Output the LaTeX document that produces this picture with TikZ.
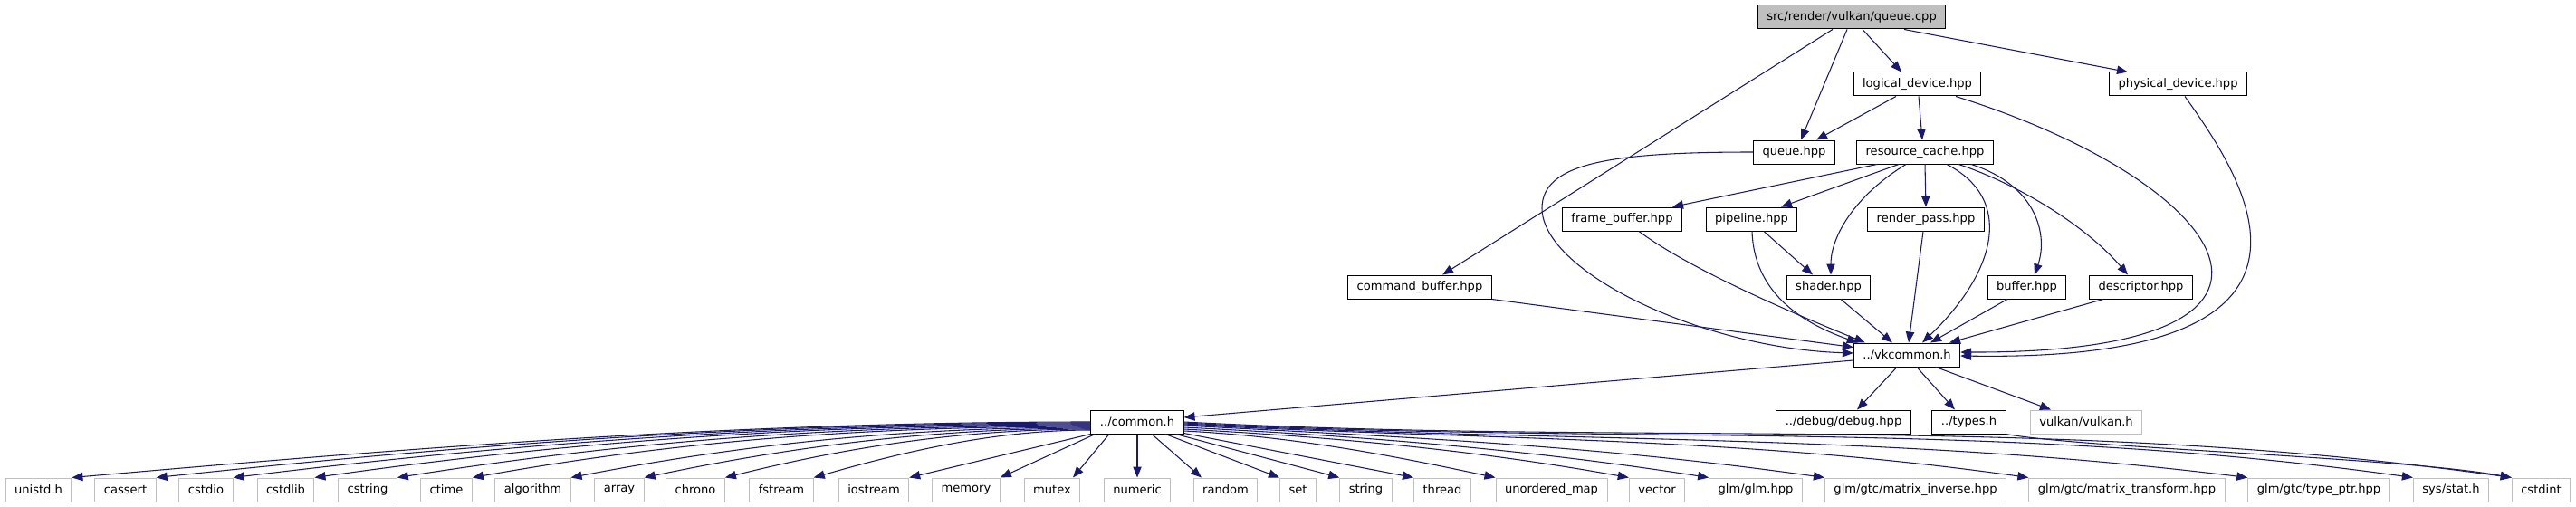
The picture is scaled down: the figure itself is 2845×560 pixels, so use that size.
\documentclass[tikz,border=0pt]{standalone}
\usepackage{fontspec}
\setmainfont{DejaVu Sans}
\usetikzlibrary{arrows.meta,calc}
\definecolor{edgeblue}{RGB}{25,25,112}
\definecolor{rootgray}{RGB}{191,191,191}
\definecolor{sysgray}{RGB}{191,191,191}
\tikzset{
    filebox/.style={draw=black,fill=white,line width=0.75pt,minimum height=19.5pt,
        inner xsep=7.5pt,inner ysep=0pt,font=\fontsize{9.8}{11}\selectfont},
    rootbox/.style={filebox,fill=rootgray},
    sysbox/.style={filebox,draw=sysgray},
    incl/.style={->,edgeblue,line width=0.8pt}
}

\begin{document}
\begin{tikzpicture}[x=0.75pt,y=-0.75pt,>={Triangle[length=9pt,width=7pt]}]
    \useasboundingbox (0,0) rectangle (2845,560);
    % Source file
    \node[rootbox] (root) at (2045,19) {src/render/vulkan/queue.cpp};
    % Project headers
    \node[filebox] (logical) at (2117.5,93) {logical\_device.hpp};
    \node[filebox] (physical) at (2405.5,93) {physical\_device.hpp};
    \node[filebox] (queue) at (1981.5,168) {queue.hpp};
    \node[filebox] (rescache) at (2126,168) {resource\_cache.hpp};
    \node[filebox] (fb) at (1791.5,242) {frame\_buffer.hpp};
    \node[filebox] (pipeline) at (1934.5,242) {pipeline.hpp};
    \node[filebox] (renderpass) at (2127,242) {render\_pass.hpp};
    \node[filebox] (cmdbuf) at (1568,317) {command\_buffer.hpp};
    \node[filebox] (shader) at (2019.5,317) {shader.hpp};
    \node[filebox] (buffer) at (2238.5,317) {buffer.hpp};
    \node[filebox] (descriptor) at (2364.5,317) {descriptor.hpp};
    \node[filebox] (vk) at (2106,392) {../vkcommon.h};
    \node[filebox] (common) at (1256,466) {../common.h};
    \node[filebox] (debug) at (2036,466) {../debug/debug.hpp};
    \node[filebox] (types) at (2174.5,466) {../types.h};
    % System headers
    \node[sysbox] (vulkan) at (2304,466) {vulkan/vulkan.h};
    \foreach \name/\x/\txt in {unistd/42.5/unistd.h, cassert/138.5/cassert,
        cstdio/227.5/cstdio, cstdlib/315.5/cstdlib, cstring/406/cstring,
        ctime/493/ctime, algorithm/588.5/algorithm, array/684/array,
        chrono/768/chrono, fstream/863/fstream, iostream/965/iostream,
        memory/1067/memory, mutex/1162/mutex, numeric/1256/numeric,
        random/1353.5/random, set/1433.5/set, string/1508.5/string,
        thread/1593/thread, umap/1713.5/unordered\_map, vector/1830/vector,
        glm/1939/{glm/glm.hpp}, inverse/2115.5/{glm/gtc/matrix\_inverse.hpp},
        transform/2349/{glm/gtc/matrix\_transform.hpp},
        typeptr/2561/{glm/gtc/type\_ptr.hpp}, stat/2707/{sys/stat.h},
        cstdint/2806.5/cstdint}
        \node[sysbox] (\name) at (\x,541) {\txt};

    % queue.cpp includes
    \draw[incl] ($(root.south)+(-21,0)$) -- ($(cmdbuf.north)+(25,0)$);
    \draw[incl] ($(root.south)+(-5,0)$) -- ($(queue.north)+(7.5,0)$);
    \draw[incl] ($(root.south)+(12,0)$) -- ($(logical.north)+(-17.5,0)$);
    \draw[incl] ($(root.south)+(58,0)$) -- ($(physical.north)+(-55.5,0)$);
    % logical_device.hpp
    \draw[incl] ($(logical.south)+(-23.5,0)$) -- ($(queue.north)+(24.5,0)$);
    \draw[incl] ($(logical.south)+(1.5,0)$) -- ($(rescache.north)+(-3,0)$);
    \draw[incl] ($(logical.south)+(42.5,0)$) .. controls (2460,200) and (2600,390) .. ($(vk.east)+(0,-3)$);
    % physical_device.hpp
    \draw[incl] ($(physical.south)+(7.5,0)$) .. controls (2480,200) and (2613,400) .. ($(vk.east)+(0,1)$);
    % queue.hpp
    \draw[incl] (queue.west) .. controls (1780,168) and (1703,180) .. (1703,230)
        .. controls (1703,300) and (1880,385) .. ($(vk.west)+(0,-2)$);
    % command_buffer.hpp
    \draw[incl] (cmdbuf.south east) -- ($(vk.north west)+(0,5)$);
    % resource_cache.hpp
    \draw[incl] ($(rescache.south)+(-53,0)$) -- ($(fb.north)+(55.5,0)$);
    \draw[incl] ($(rescache.south)+(-29,0)$) -- ($(pipeline.north)+(32.5,0)$);
    \draw[incl] ($(rescache.south)+(-21,0)$) .. controls (2050,215) and (2022,260) .. ($(shader.north)+(2.5,0)$);
    \draw[incl] (rescache.south) -- (renderpass.north);
    \draw[incl] ($(rescache.south)+(24,0)$) .. controls (2225,220) and (2205,300) .. ($(vk.north)+(17,0)$);
    \draw[incl] ($(rescache.south)+(51,0)$) .. controls (2250,205) and (2262,260) .. ($(buffer.north)+(8.5,0)$);
    \draw[incl] ($(rescache.south)+(37,0)$) .. controls (2220,200) and (2300,245) .. ($(descriptor.north)+(-14.5,0)$);
    % pipeline.hpp
    \draw[incl] ($(pipeline.south)+(13.5,0)$) -- ($(shader.north)+(-17.5,0)$);
    \draw[incl] ($(pipeline.south)+(0.5,0)$) .. controls (1937,320) and (1985,355) .. ($(vk.north west)+(5,0)$);
    % frame_buffer.hpp
    \draw[incl] ($(fb.south)+(18.5,0)$) .. controls (1870,300) and (1990,350) .. ($(vk.north)+(-46,0)$);
    % the rest into vkcommon.h
    \draw[incl] ($(renderpass.south)+(-3,0)$) -- ($(vk.north)+(2,0)$);
    \draw[incl] ($(shader.south)+(13.5,0)$) -- ($(vk.north)+(-16,0)$);
    \draw[incl] ($(buffer.south)+(-21.5,0)$) -- ($(vk.north)+(26,0)$);
    \draw[incl] ($(descriptor.south)+(-41.5,0)$) -- ($(vk.north)+(47,0)$);
    % vkcommon.h
    \draw[incl] ($(vk.west)+(0,6)$) -- ($(common.east)+(0,-5)$);
    \draw[incl] ($(vk.south)+(-11,0)$) -- ($(debug.north)+(15,0)$);
    \draw[incl] ($(vk.south)+(11,0)$) -- ($(types.north)+(-15.5,0)$);
    \draw[incl] ($(vk.south)+(32,0)$) -- ($(vulkan.north)+(-39,0)$);
    % types.h
    \draw[incl] (types.south east) .. controls (2300,495) and (2650,505) .. (cstdint.north west);
    % common.h, left fan
    \foreach \name/\dy/\la/\bx/\by in {unistd/0/390/390/-34, cassert/1/360/358/-38,
        cstdio/2/330/327/-40, cstdlib/3/300/297/-42, cstring/4/270/266/-42,
        ctime/5/240/236/-42, algorithm/6/200/196/-38, array/7/170/166/-35,
        chrono/8/140/136/-34, fstream/9/105/101/-29}
        \draw[incl] ($(common.west)+(0,\dy)$) .. controls +(-\la,0) and +(\bx,\by) .. (\name.north east);
    \draw[incl] (common.south west) -- (iostream.north east);
    \draw[incl] ($(common.south west)+(5,0)$) -- (memory.north east);
    % common.h, straight down
    \draw[incl] ($(common.south)+(-31,0)$) -- ($(mutex.north)+(23,0)$);
    \draw[incl] (common.south) -- (numeric.north);
    \draw[incl] ($(common.south)+(16,0)$) -- ($(random.north)+(-26.5,0)$);
    \draw[incl] ($(common.south)+(31,0)$) -- (set.north west);
    \draw[incl] ($(common.south east)+(-9,0)$) -- (string.north west);
    \draw[incl] ($(common.south east)+(0,-1)$) -- (thread.north west);
    % common.h, right fan
    \foreach \name/\dy/\ax/\ay/\bx/\by in {umap/10/120/6/-117/-25, vector/8/170/9/-167/-30,
        glm/6/200/10/-198/-31, inverse/4/250/13/-248/-35, transform/3/330/17/-327/-46,
        typeptr/2/410/21/-407/-50, stat/1/470/25/-465/-65, cstdint/0/510/27/-505/-71}
        \draw[incl] ($(common.east)+(0,\dy)$) .. controls +(\ax,\ay) and +(\bx,\by) .. (\name.north west);
\end{tikzpicture}
\end{document}
